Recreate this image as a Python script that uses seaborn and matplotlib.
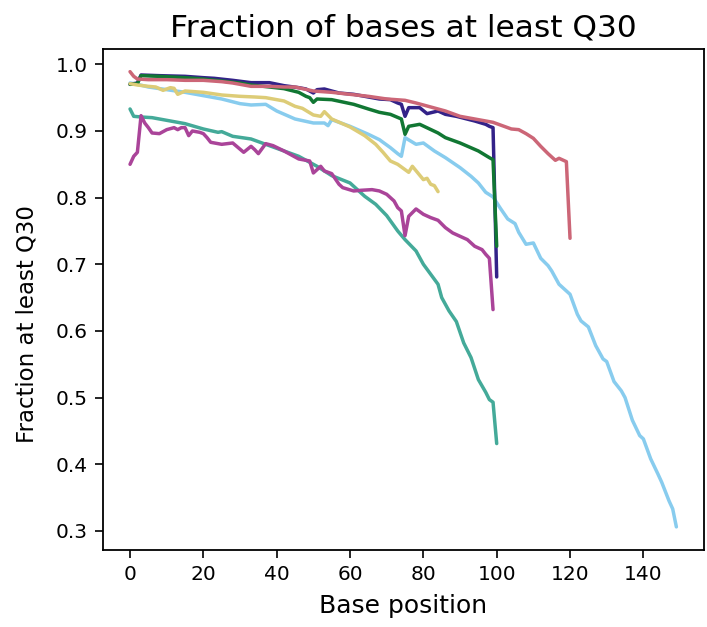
import numpy as np
import pandas as pd
import matplotlib
matplotlib.use("Agg")
import matplotlib.pyplot as plt
import seaborn as sns

# Per-sample fraction of bases >= Q30 along the read (x = base position)
indigo_x = [0, 1, 2, 3, 8, 15, 20, 23, 28, 33, 38, 42, 46, 48, 50, 51, 53, 57, 61, 64, 68, 71, 73, 74, 75, 76, 79, 81, 84, 86, 89, 94, 97, 98, 99, 100]
indigo_y = [0.970, 0.971, 0.972, 0.984, 0.983, 0.982, 0.980, 0.979, 0.976, 0.9725, 0.9725, 0.968, 0.965, 0.963, 0.957, 0.962, 0.963, 0.957, 0.955, 0.952, 0.948, 0.947, 0.942, 0.940, 0.922, 0.935, 0.935, 0.926, 0.930, 0.925, 0.922, 0.915, 0.910, 0.907, 0.905, 0.681]

green_x = [0, 2, 3, 8, 15, 20, 25, 30, 33, 38, 42, 46, 48, 49, 50, 51, 55, 61, 65, 68, 71, 74, 75, 76, 79, 84, 86, 90, 95, 98, 99, 100]
green_y = [0.970, 0.971, 0.983, 0.982, 0.980, 0.978, 0.975, 0.972, 0.969, 0.966, 0.9635, 0.958, 0.952, 0.950, 0.943, 0.948, 0.947, 0.940, 0.933, 0.928, 0.925, 0.918, 0.895, 0.907, 0.910, 0.897, 0.890, 0.882, 0.870, 0.860, 0.857, 0.727]

rose_x = [0, 1, 2, 5, 10, 15, 20, 25, 28, 33, 38, 42, 45, 50, 55, 60, 65, 70, 75, 78, 82, 86, 90, 93, 96, 99, 101, 104, 106, 108, 110, 112, 114, 116, 117, 119, 120]
rose_y = [0.989, 0.982, 0.978, 0.977, 0.977, 0.976, 0.976, 0.974, 0.972, 0.967, 0.967, 0.966, 0.966, 0.960, 0.958, 0.955, 0.952, 0.948, 0.946, 0.942, 0.936, 0.930, 0.922, 0.919, 0.916, 0.913, 0.909, 0.903, 0.902, 0.896, 0.889, 0.877, 0.866, 0.856, 0.859, 0.854, 0.739]

sand_x = [0, 2, 5, 7, 9, 11, 12, 13, 15, 20, 25, 30, 34, 37, 42, 45, 47, 50, 52, 53, 55, 60, 64, 67, 69, 71, 73, 76, 77, 80, 81, 82, 83, 84]
sand_y = [0.971, 0.969, 0.967, 0.966, 0.961, 0.965, 0.964, 0.955, 0.960, 0.958, 0.954, 0.952, 0.951, 0.950, 0.945, 0.937, 0.934, 0.924, 0.922, 0.929, 0.918, 0.906, 0.893, 0.880, 0.868, 0.855, 0.850, 0.838, 0.847, 0.827, 0.829, 0.820, 0.818, 0.809]

cyan_x = [0, 2, 5, 10, 15, 20, 25, 30, 33, 37, 40, 45, 50, 53, 54, 55, 60, 65, 68, 71, 73, 74, 75, 78, 80, 83, 86, 90, 93, 95, 97, 99, 101, 103, 105, 106, 108, 110, 112, 114, 115, 117, 119, 120, 122, 123, 125, 127, 129, 130, 132, 134, 135, 137, 139, 140, 142, 144, 145, 147, 148, 149]
cyan_y = [0.972, 0.970, 0.966, 0.962, 0.958, 0.953, 0.948, 0.941, 0.939, 0.940, 0.930, 0.918, 0.912, 0.912, 0.908, 0.917, 0.907, 0.895, 0.887, 0.875, 0.866, 0.862, 0.890, 0.880, 0.882, 0.870, 0.860, 0.845, 0.832, 0.822, 0.808, 0.801, 0.784, 0.768, 0.761, 0.748, 0.730, 0.732, 0.709, 0.698, 0.690, 0.670, 0.660, 0.655, 0.625, 0.615, 0.606, 0.578, 0.558, 0.554, 0.524, 0.510, 0.500, 0.466, 0.443, 0.438, 0.408, 0.385, 0.373, 0.345, 0.333, 0.306]

teal_x = [0, 1, 3, 6, 11, 15, 20, 24, 25, 28, 33, 37, 42, 46, 51, 55, 60, 64, 67, 70, 73, 75, 78, 80, 82, 84, 85, 87, 89, 91, 93, 95, 97, 98, 99, 100]
teal_y = [0.933, 0.922, 0.921, 0.920, 0.915, 0.911, 0.903, 0.898, 0.899, 0.892, 0.888, 0.880, 0.870, 0.862, 0.847, 0.833, 0.822, 0.802, 0.790, 0.773, 0.750, 0.737, 0.720, 0.700, 0.685, 0.670, 0.650, 0.630, 0.614, 0.582, 0.560, 0.527, 0.508, 0.497, 0.493, 0.431]

purple_x = [0, 1, 2, 3, 4, 5, 6, 8, 10, 12, 13, 14, 15, 16, 17, 19, 20, 21, 22, 25, 28, 31, 33, 34, 35, 37, 39, 42, 46, 49, 50, 52, 53, 55, 57, 58, 61, 63, 66, 68, 70, 72, 73, 74, 75, 76, 78, 80, 82, 84, 86, 88, 90, 92, 94, 96, 97, 98, 99]
purple_y = [0.850, 0.862, 0.868, 0.923, 0.912, 0.905, 0.897, 0.896, 0.902, 0.905, 0.902, 0.905, 0.905, 0.893, 0.900, 0.898, 0.896, 0.890, 0.883, 0.880, 0.882, 0.868, 0.877, 0.872, 0.866, 0.881, 0.878, 0.870, 0.858, 0.855, 0.837, 0.847, 0.840, 0.836, 0.820, 0.815, 0.810, 0.811, 0.812, 0.810, 0.805, 0.795, 0.785, 0.780, 0.743, 0.772, 0.783, 0.775, 0.770, 0.766, 0.755, 0.747, 0.742, 0.737, 0.727, 0.722, 0.715, 0.709, 0.632]

series = [
    ("cyan", cyan_x, cyan_y, "#88CCEE"),
    ("teal", teal_x, teal_y, "#44AA99"),
    ("indigo", indigo_x, indigo_y, "#332288"),
    ("green", green_x, green_y, "#117733"),
    ("rose", rose_x, rose_y, "#CC6677"),
    ("sand", sand_x, sand_y, "#DDCC77"),
    ("purple", purple_x, purple_y, "#AA4499"),
]

frames = [pd.DataFrame({"pos": xs, "frac": ys, "sample": name}) for name, xs, ys, _ in series]
df = pd.concat(frames, ignore_index=True)
palette = {name: col for name, _, _, col in series}
order = [name for name, _, _, _ in series]

sns.set_style("ticks")
plt.rcParams["font.family"] = ["DejaVu Sans"]
plt.rcParams["text.color"] = "black"
plt.rcParams["axes.labelcolor"] = "black"
plt.rcParams["xtick.color"] = "black"
plt.rcParams["ytick.color"] = "black"

fig = plt.figure(figsize=(7.07, 6.27), dpi=100)
ax = fig.add_axes([0.1453, 0.1234, 0.85, 0.7986])

sns.lineplot(data=df, x="pos", y="frac", hue="sample", hue_order=order,
             palette=palette, estimator=None, sort=False, linewidth=2.5,
             legend=False, ax=ax)

ax.set_title("Fraction of bases at least Q30", fontsize=22.5, pad=9, color="black")
ax.set_xlabel("Base position", fontsize=18, labelpad=7)
ax.set_ylabel("Fraction at least Q30", fontsize=16.5)
ax.yaxis.set_label_coords(-0.107, 0.45)
ax.tick_params(axis="both", labelsize=14.5, length=6, width=1.2, pad=5,
               color="black", labelcolor="black")
for s in ax.spines.values():
    s.set_visible(True)
    s.set_color("black")
    s.set_linewidth(1.3)
ax.set_xticks([0, 20, 40, 60, 80, 100, 120, 140])
ax.set_yticks([0.3, 0.4, 0.5, 0.6, 0.7, 0.8, 0.9, 1.0])
ax.margins(x=0.05, y=0.05)

fig.savefig("out.png", dpi=100)
